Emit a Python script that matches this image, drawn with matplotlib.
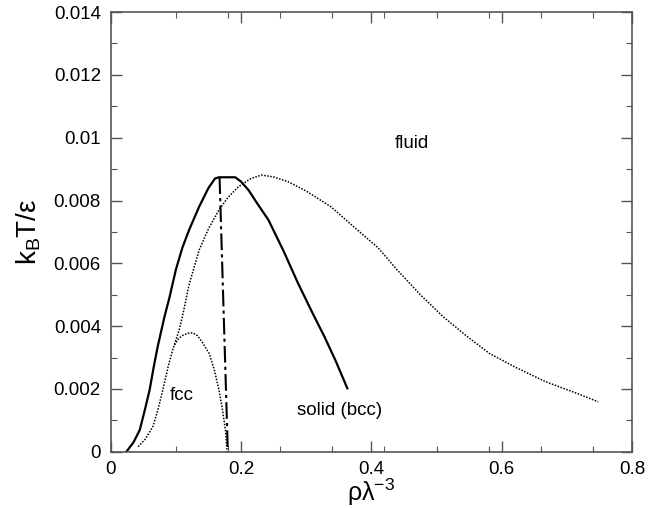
import matplotlib
matplotlib.use("Agg")
import matplotlib.pyplot as plt
from matplotlib.ticker import MultipleLocator, FixedLocator, FormatStrFormatter

plt.rcParams["font.family"] = ["Liberation Sans", "DejaVu Sans"]
plt.rcParams["mathtext.fontset"] = "custom"
plt.rcParams["mathtext.rm"] = "Liberation Sans"
plt.rcParams["mathtext.it"] = "Liberation Sans"

# solid line: bcc / fluid boundary
solid_x = [0.024, 0.035, 0.0445, 0.052, 0.0597, 0.066, 0.072, 0.0825, 0.09, 0.10, 0.11,
           0.12, 0.1356, 0.15, 0.16, 0.166, 0.191, 0.20, 0.2115, 0.225, 0.242, 0.265,
           0.2875, 0.31, 0.328, 0.345, 0.363]
solid_y = [0.0, 0.0003, 0.00069, 0.0013, 0.00197, 0.0027, 0.00334, 0.0043, 0.0049, 0.0058, 0.0065,
           0.00705, 0.0078, 0.0084, 0.0087, 0.00874, 0.00874, 0.0086, 0.00833, 0.0079, 0.00738, 0.0064,
           0.00536, 0.0044, 0.00366, 0.0029, 0.00202]

# dotted line (large dome)
dot_x = [0.042, 0.053, 0.0647, 0.072, 0.08, 0.088, 0.095, 0.105, 0.11, 0.12, 0.1356, 0.15,
         0.166, 0.18, 0.196, 0.215, 0.2317, 0.25, 0.272, 0.30, 0.338, 0.3785, 0.41, 0.439,
         0.475, 0.51, 0.545, 0.581, 0.62, 0.667, 0.71, 0.748]
dot_y = [0.00016, 0.0004, 0.0008, 0.0013, 0.00197, 0.0027, 0.00324, 0.00388, 0.0043, 0.0053, 0.00642, 0.0071,
         0.0077, 0.0081, 0.00844, 0.0087, 0.00881, 0.00875, 0.0086, 0.0083, 0.0078, 0.00706, 0.0065, 0.0058,
         0.005, 0.0043, 0.0037, 0.00313, 0.0027, 0.00223, 0.0019, 0.00159]

# dotted line (fcc dome)
fcc_x = [0.0978, 0.104, 0.110, 0.118, 0.1254, 0.133, 0.140, 0.151, 0.159, 0.166, 0.171, 0.176, 0.1786]
fcc_y = [0.0034, 0.0036, 0.0037, 0.00377, 0.00379, 0.0037, 0.0035, 0.00313, 0.0026, 0.00197, 0.0014, 0.00069, 0.0]

# dash-dot line
dd_x = [0.167, 0.1797]
dd_y = [0.00874, 0.0]

fig = plt.figure(figsize=(6.49, 5.08), dpi=100)
ax = fig.add_axes([0.1706, 0.1108, 0.8034, 0.8654])

ax.plot(solid_x, solid_y, color="black", lw=1.6)
ax.plot(dot_x, dot_y, color="black", lw=1.1, linestyle=(0, (1, 1)))
ax.plot(fcc_x, fcc_y, color="black", lw=1.1, linestyle=(0, (1, 1)))
ax.plot(dd_x, dd_y, color="black", lw=1.5, linestyle=(0, (8, 2, 1.5, 2)))

ax.set_xlim(0, 0.8)
ax.set_ylim(0, 0.014)
ax.xaxis.set_major_locator(MultipleLocator(0.2))
ax.xaxis.set_minor_locator(FixedLocator([0.1, 0.18, 0.26, 0.34, 0.42, 0.5, 0.58, 0.66, 0.74]))
ax.yaxis.set_major_locator(MultipleLocator(0.002))
ax.yaxis.set_minor_locator(MultipleLocator(0.001))
ax.xaxis.set_major_formatter(FormatStrFormatter("%g"))
ax.yaxis.set_major_formatter(FormatStrFormatter("%g"))

ax.tick_params(which="both", direction="in", top=True, right=True, labelsize=13.5,
               color="#555555", pad=7)
ax.tick_params(which="major", length=8, width=1)
ax.tick_params(which="minor", length=4, width=0.8)
for s in ax.spines.values():
    s.set_color("#555555")
    s.set_linewidth(1.2)

ax.set_xlabel(r"ρλ$^{-3}$", fontsize=18, labelpad=-1)
ax.set_ylabel(r"k$_{\rm B}$T/ε", fontsize=20, labelpad=8)

ax.text(0.462, 0.0098, "fluid", fontsize=13.5, ha="center", va="center")
ax.text(0.109, 0.0018, "fcc", fontsize=13.5, ha="center", va="center")
ax.text(0.351, 0.0013, "solid (bcc)", fontsize=13.5, ha="center", va="center")

fig.savefig("out.png", dpi=100)
